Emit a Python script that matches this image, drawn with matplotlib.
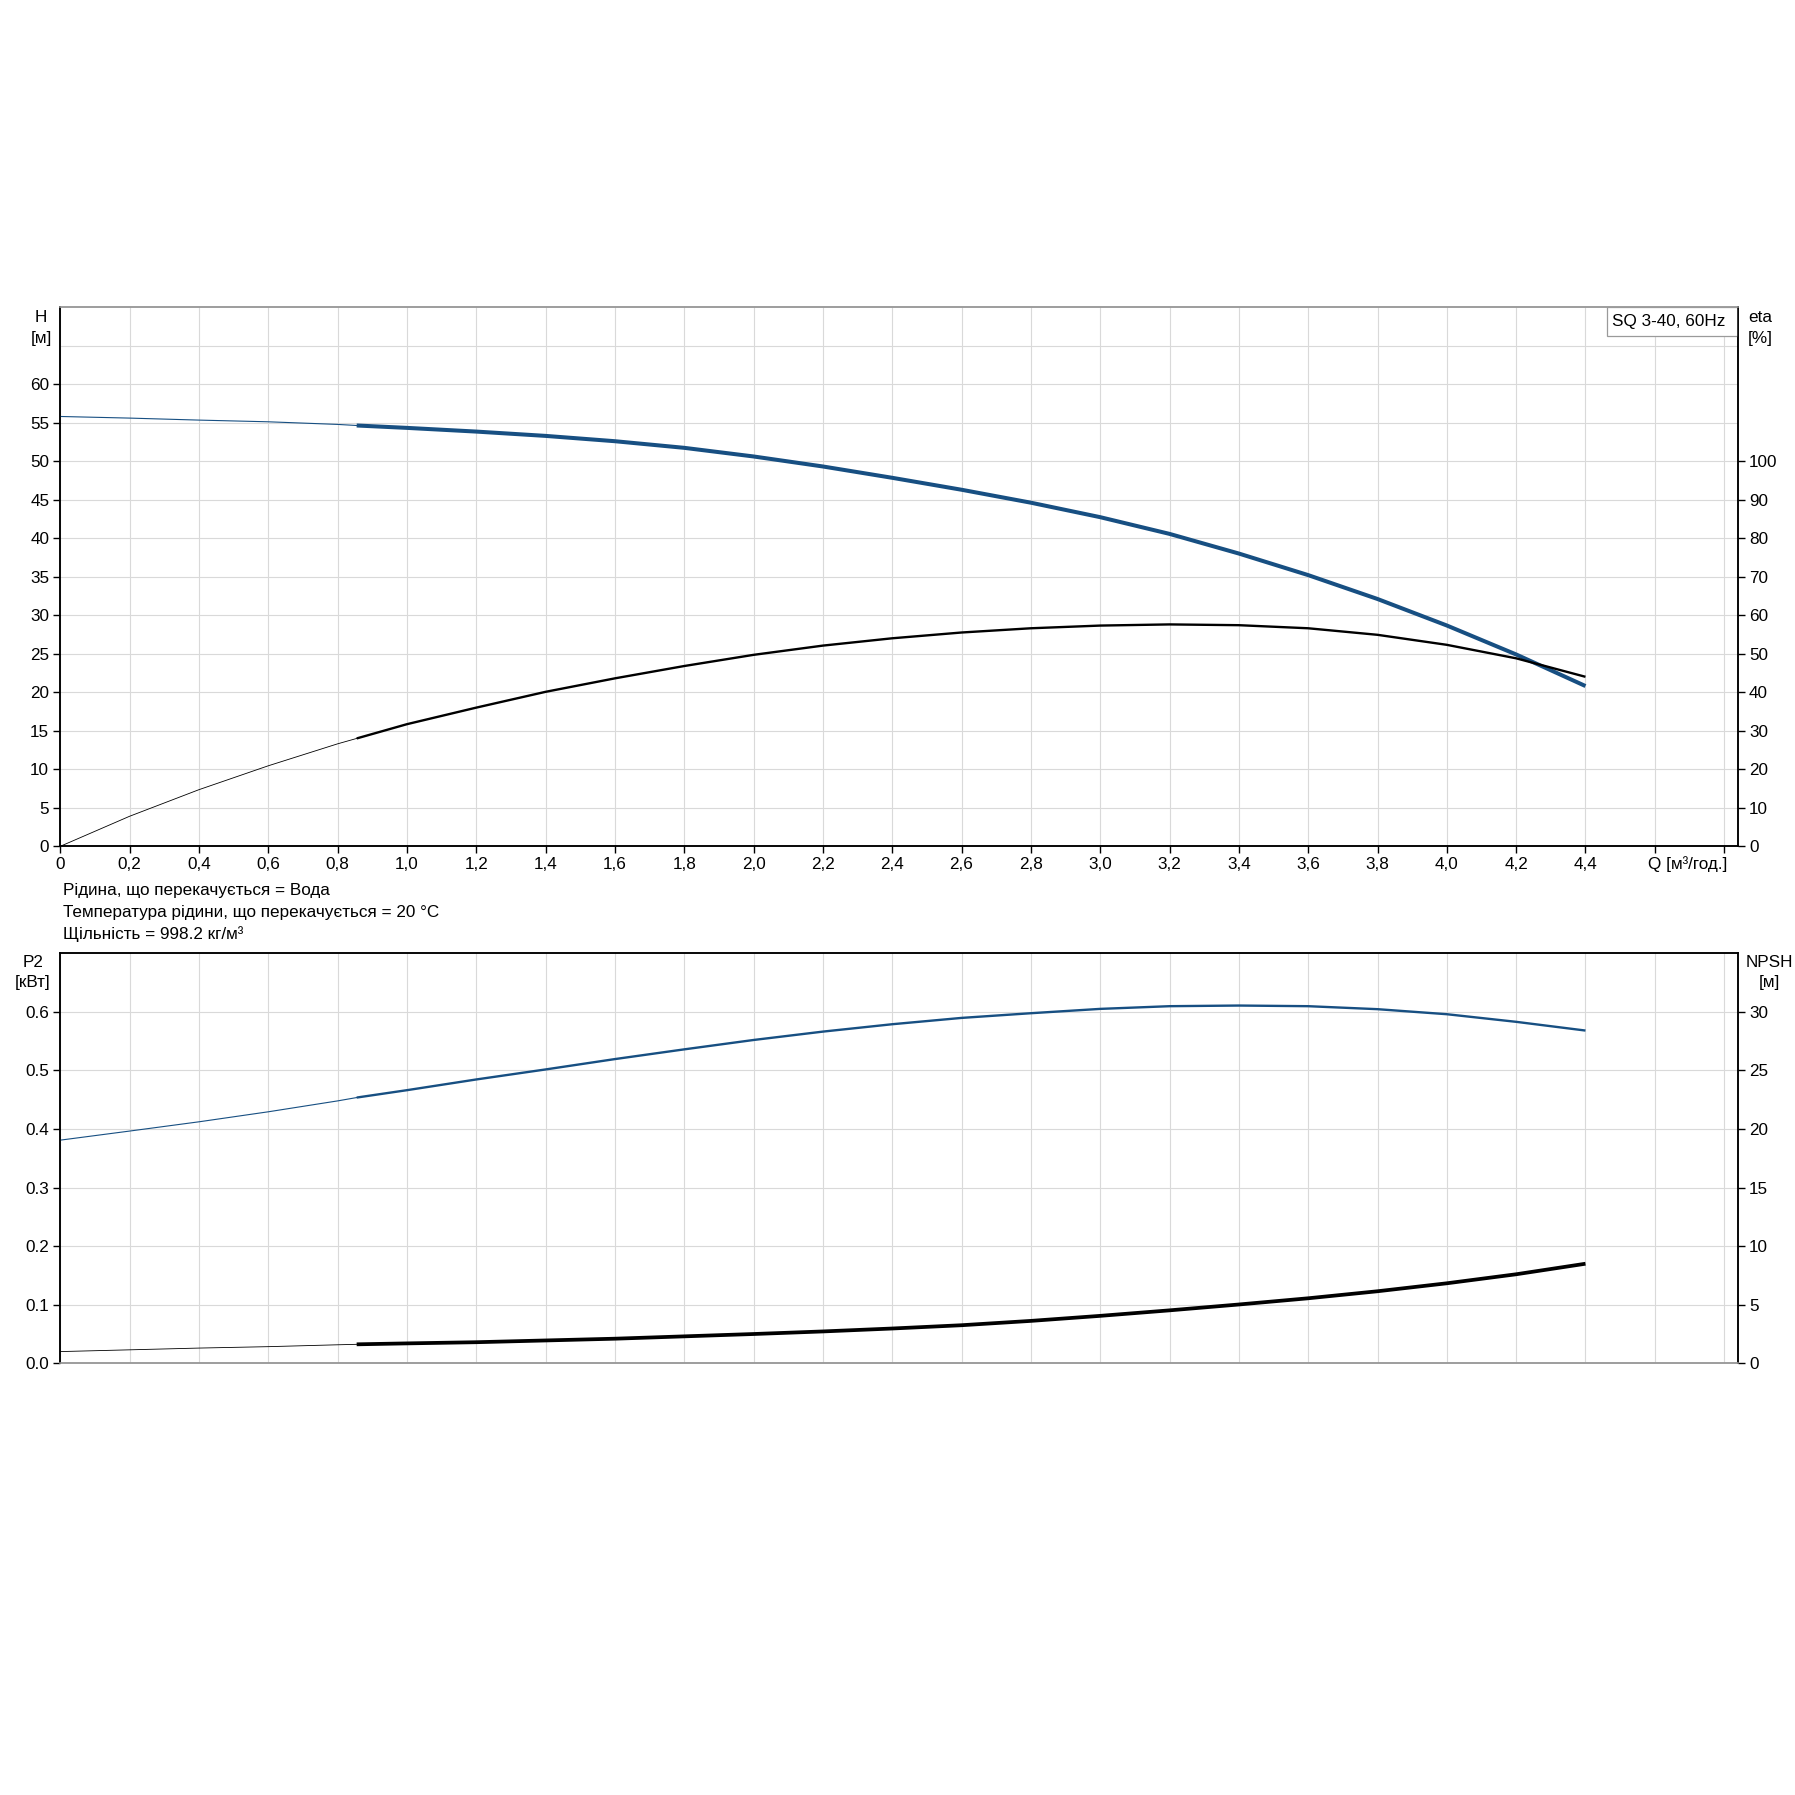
import matplotlib
matplotlib.use("Agg")
import matplotlib.pyplot as plt
import matplotlib.patches as mpatches
import numpy as np

plt.rcParams["font.family"] = ["Liberation Sans", "DejaVu Sans"]
plt.rcParams["font.size"] = 12.3

# flow (m3/h); first points are drawn thin (below the operating range)
q = [0.0, 0.2, 0.4, 0.6, 0.8, 0.855, 1.0, 1.2, 1.4, 1.6, 1.8, 2.0, 2.2, 2.4,
     2.6, 2.8, 3.0, 3.2, 3.4, 3.6, 3.8, 4.0, 4.2, 4.4]
split = 5  # index of Q = 0.855, start of thick part

head = [55.79, 55.58, 55.32, 55.1, 54.76, 54.62, 54.31, 53.83, 53.27, 52.58,
        51.72, 50.6, 49.3, 47.83, 46.28, 44.6, 42.72, 40.55, 38.0, 35.2,
        32.1, 28.66, 24.9, 20.8]
eta = [0.0, 7.8, 14.7, 20.9, 26.6, 28.0, 31.7, 36.0, 40.1, 43.6, 46.8, 49.7,
       52.1, 54.0, 55.5, 56.6, 57.3, 57.6, 57.4, 56.6, 54.9, 52.3, 48.8, 44.0]
p2 = [0.381, 0.3965, 0.4123, 0.4294, 0.448, 0.4537, 0.4663, 0.4846, 0.5017,
      0.5194, 0.536, 0.552, 0.5663, 0.5789, 0.5897, 0.5977, 0.6051, 0.6097,
      0.6108, 0.6097, 0.6046, 0.596, 0.583, 0.5681]
npsh = [1.0, 1.15, 1.3, 1.42, 1.58, 1.62, 1.7, 1.8, 1.95, 2.1, 2.3, 2.5, 2.72,
        2.97, 3.25, 3.62, 4.05, 4.52, 5.02, 5.55, 6.15, 6.83, 7.6, 8.5]

xticks = np.round(np.arange(0, 4.81, 0.2), 1)
xlabels = ["0"] + [f"{v:.1f}".replace(".", ",") for v in xticks[1:23]] + ["", ""]

blue = "#174f82"
grid_c = "#d9d9d9"
W = 1795.0
fs = 12.3

fig = plt.figure(figsize=(17.95, 17.95), dpi=100)

# ---------- top: H and eta ----------
ax1 = fig.add_axes([60.3 / W, 1 - 846.3 / W, 1677.7 / W, 539.3 / W])
ax1r = ax1.twinx()

ax1.plot(q[:split + 1], head[:split + 1], color=blue, lw=0.8, zorder=3)
ax1.plot(q[split:], head[split:], color=blue, lw=2.9, zorder=3,
         solid_capstyle="butt", solid_joinstyle="round")
ax1r.plot(q[:split + 1], eta[:split + 1], color="black", lw=0.6, zorder=3)
ax1r.plot(q[split:], eta[split:], color="black", lw=1.7, zorder=3,
          solid_capstyle="butt", solid_joinstyle="round")

ax1.set_xlim(0, 4.84)
ax1.set_ylim(0, 70)
ax1r.set_ylim(0, 140)
ax1.set_xticks(xticks)
ax1.set_xticklabels(xlabels)
ax1.set_yticks(np.arange(0, 61, 5))
ax1.set_yticks([65], minor=True)
ax1r.set_yticks(np.arange(0, 101, 10))
ax1.grid(True, which="both", color=grid_c, lw=0.8)
ax1.set_axisbelow(True)

# ---------- bottom: P2 and NPSH ----------
ax2 = fig.add_axes([60.3 / W, 1 - 1363.3 / W, 1677.7 / W, 410.0 / W])
ax2r = ax2.twinx()

ax2.plot(q[:split + 1], p2[:split + 1], color=blue, lw=0.8, zorder=3)
ax2.plot(q[split:], p2[split:], color=blue, lw=1.7, zorder=3,
         solid_capstyle="butt", solid_joinstyle="round")
ax2r.plot(q[:split + 1], npsh[:split + 1], color="black", lw=0.6, zorder=3)
ax2r.plot(q[split:], npsh[split:], color="black", lw=2.7, zorder=3,
          solid_capstyle="butt", solid_joinstyle="round")

ax2.set_xlim(0, 4.84)
ax2.set_ylim(0, 0.7)
ax2r.set_ylim(0, 35)
ax2.set_xticks(xticks)
ax2.set_yticks(np.arange(0, 0.61, 0.1))
ax2.set_yticklabels([f"{v:.1f}" for v in np.arange(0, 0.61, 0.1)])
ax2r.set_yticks(np.arange(0, 31, 5))
ax2.grid(True, color=grid_c, lw=0.8)
ax2.set_axisbelow(True)

for a in (ax1, ax1r, ax2, ax2r):
    a.tick_params(direction="out", length=5, width=1, labelsize=fs,
                  colors="black", pad=3)
    for s in a.spines.values():
        s.set_linewidth(1.1)
        s.set_color("black")
ax1.tick_params(which="minor", length=0)
ax1.spines["top"].set_color("#9a9a9a")
ax1r.spines["top"].set_color("#9a9a9a")
ax2.spines["bottom"].set_color("#9a9a9a")
ax2r.spines["bottom"].set_color("#9a9a9a")
ax2.tick_params(axis="x", length=0, labelbottom=False)

# axis captions
def ftext(x, y, s, **kw):
    fig.text(x / W, 1 - y / W, s, ha="center", va="center", fontsize=fs, **kw)

ftext(41, 317, "H")
ftext(41, 338, "[м]")
ftext(1760, 317, "eta")
ftext(1760, 338, "[%]")
ftext(33, 963, "P2")
ftext(33, 983, "[кВт]")
ftext(1769, 963, "NPSH")
ftext(1769, 983, "[м]")

ax1.text(4.81, -0.032, "Q [м³/год.]", transform=ax1.get_xaxis_transform(),
         ha="right", va="center", fontsize=fs)

# legend box
ax1.add_patch(mpatches.Rectangle((0.9219, 0.9468), 0.0781, 0.0532,
                                 transform=ax1.transAxes, fc="white",
                                 ec="#9a9a9a", lw=0.9, zorder=5))
ax1.text(0.9589, 0.974, "SQ 3-40, 60Hz", transform=ax1.transAxes,
         ha="center", va="center", fontsize=fs, zorder=6)

# fluid info
info = ["Рідина, що перекачується = Вода",
        "Температура рідини, що перекачується = 20 °C",
        "Щільність = 998.2 кг/м³"]
for i, line in enumerate(info):
    fig.text(63 / W, 1 - (891 + 21.3 * i) / W, line, ha="left", va="center",
             fontsize=fs)

fig.savefig("out.png", dpi=100, facecolor="white")
